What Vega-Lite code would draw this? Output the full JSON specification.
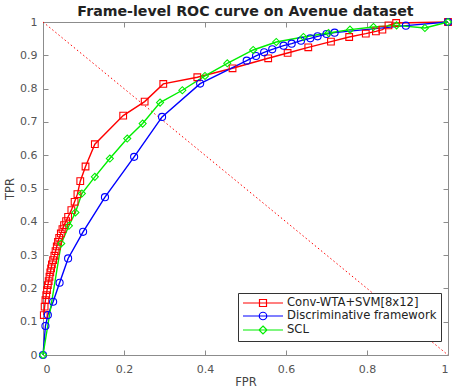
{
  "$schema": "https://vega.github.io/schema/vega-lite/v6.json",
  "width": 405,
  "height": 333,
  "autosize": "none",
  "padding": {"left": 43, "top": 22, "right": 11, "bottom": 33},
  "background": "white",
  "title": {"text": "Frame-level ROC curve on Avenue dataset", "font": "DejaVu Sans", "fontSize": 14.2, "fontWeight": "bold", "color": "#222222", "offset": -3},
  "config": {
    "view": {"stroke": null},
    "axis": {"grid": false, "domainColor": "#8c8c8c", "tickColor": "#8c8c8c", "tickSize": -5, "labelFont": "DejaVu Sans", "labelFontSize": 11, "labelColor": "#555555", "titleFont": "DejaVu Sans", "titleFontSize": 11.5, "titleFontWeight": "normal", "titleColor": "#444444", "format": "~g", "domainWidth": 1}
  },
  "datasets": {
    "roc": [
      {"series": "Conv-WTA+SVM[8x12]", "fpr": 0.002, "tpr": 0.12},
      {"series": "Conv-WTA+SVM[8x12]", "fpr": 0.004, "tpr": 0.145},
      {"series": "Conv-WTA+SVM[8x12]", "fpr": 0.006, "tpr": 0.165},
      {"series": "Conv-WTA+SVM[8x12]", "fpr": 0.008, "tpr": 0.18},
      {"series": "Conv-WTA+SVM[8x12]", "fpr": 0.010, "tpr": 0.195},
      {"series": "Conv-WTA+SVM[8x12]", "fpr": 0.012, "tpr": 0.21},
      {"series": "Conv-WTA+SVM[8x12]", "fpr": 0.014, "tpr": 0.222},
      {"series": "Conv-WTA+SVM[8x12]", "fpr": 0.016, "tpr": 0.235},
      {"series": "Conv-WTA+SVM[8x12]", "fpr": 0.018, "tpr": 0.248},
      {"series": "Conv-WTA+SVM[8x12]", "fpr": 0.020, "tpr": 0.26},
      {"series": "Conv-WTA+SVM[8x12]", "fpr": 0.022, "tpr": 0.272},
      {"series": "Conv-WTA+SVM[8x12]", "fpr": 0.025, "tpr": 0.285},
      {"series": "Conv-WTA+SVM[8x12]", "fpr": 0.028, "tpr": 0.298},
      {"series": "Conv-WTA+SVM[8x12]", "fpr": 0.031, "tpr": 0.312},
      {"series": "Conv-WTA+SVM[8x12]", "fpr": 0.034, "tpr": 0.326},
      {"series": "Conv-WTA+SVM[8x12]", "fpr": 0.037, "tpr": 0.34},
      {"series": "Conv-WTA+SVM[8x12]", "fpr": 0.040, "tpr": 0.352},
      {"series": "Conv-WTA+SVM[8x12]", "fpr": 0.044, "tpr": 0.365},
      {"series": "Conv-WTA+SVM[8x12]", "fpr": 0.048, "tpr": 0.378},
      {"series": "Conv-WTA+SVM[8x12]", "fpr": 0.052, "tpr": 0.39},
      {"series": "Conv-WTA+SVM[8x12]", "fpr": 0.057, "tpr": 0.402},
      {"series": "Conv-WTA+SVM[8x12]", "fpr": 0.062, "tpr": 0.415},
      {"series": "Conv-WTA+SVM[8x12]", "fpr": 0.070, "tpr": 0.435},
      {"series": "Conv-WTA+SVM[8x12]", "fpr": 0.078, "tpr": 0.46},
      {"series": "Conv-WTA+SVM[8x12]", "fpr": 0.085, "tpr": 0.483},
      {"series": "Conv-WTA+SVM[8x12]", "fpr": 0.092, "tpr": 0.522},
      {"series": "Conv-WTA+SVM[8x12]", "fpr": 0.105, "tpr": 0.566},
      {"series": "Conv-WTA+SVM[8x12]", "fpr": 0.128, "tpr": 0.633},
      {"series": "Conv-WTA+SVM[8x12]", "fpr": 0.198, "tpr": 0.719},
      {"series": "Conv-WTA+SVM[8x12]", "fpr": 0.251, "tpr": 0.761},
      {"series": "Conv-WTA+SVM[8x12]", "fpr": 0.297, "tpr": 0.814},
      {"series": "Conv-WTA+SVM[8x12]", "fpr": 0.381, "tpr": 0.834},
      {"series": "Conv-WTA+SVM[8x12]", "fpr": 0.468, "tpr": 0.861},
      {"series": "Conv-WTA+SVM[8x12]", "fpr": 0.556, "tpr": 0.891},
      {"series": "Conv-WTA+SVM[8x12]", "fpr": 0.604, "tpr": 0.907},
      {"series": "Conv-WTA+SVM[8x12]", "fpr": 0.655, "tpr": 0.924},
      {"series": "Conv-WTA+SVM[8x12]", "fpr": 0.711, "tpr": 0.941},
      {"series": "Conv-WTA+SVM[8x12]", "fpr": 0.756, "tpr": 0.955},
      {"series": "Conv-WTA+SVM[8x12]", "fpr": 0.797, "tpr": 0.965},
      {"series": "Conv-WTA+SVM[8x12]", "fpr": 0.822, "tpr": 0.972},
      {"series": "Conv-WTA+SVM[8x12]", "fpr": 0.838, "tpr": 0.977},
      {"series": "Conv-WTA+SVM[8x12]", "fpr": 0.853, "tpr": 0.99},
      {"series": "Conv-WTA+SVM[8x12]", "fpr": 0.872, "tpr": 0.997},
      {"series": "Conv-WTA+SVM[8x12]", "fpr": 1.0, "tpr": 1.0},
      {"series": "Discriminative framework", "fpr": 0.0, "tpr": 0.0},
      {"series": "Discriminative framework", "fpr": 0.006, "tpr": 0.087},
      {"series": "Discriminative framework", "fpr": 0.012, "tpr": 0.12},
      {"series": "Discriminative framework", "fpr": 0.025, "tpr": 0.16},
      {"series": "Discriminative framework", "fpr": 0.041, "tpr": 0.217},
      {"series": "Discriminative framework", "fpr": 0.062, "tpr": 0.29},
      {"series": "Discriminative framework", "fpr": 0.099, "tpr": 0.37},
      {"series": "Discriminative framework", "fpr": 0.153, "tpr": 0.474},
      {"series": "Discriminative framework", "fpr": 0.225, "tpr": 0.595},
      {"series": "Discriminative framework", "fpr": 0.294, "tpr": 0.715},
      {"series": "Discriminative framework", "fpr": 0.388, "tpr": 0.815},
      {"series": "Discriminative framework", "fpr": 0.503, "tpr": 0.884},
      {"series": "Discriminative framework", "fpr": 0.526, "tpr": 0.898},
      {"series": "Discriminative framework", "fpr": 0.546, "tpr": 0.909},
      {"series": "Discriminative framework", "fpr": 0.566, "tpr": 0.918},
      {"series": "Discriminative framework", "fpr": 0.594, "tpr": 0.929},
      {"series": "Discriminative framework", "fpr": 0.614, "tpr": 0.935},
      {"series": "Discriminative framework", "fpr": 0.637, "tpr": 0.944},
      {"series": "Discriminative framework", "fpr": 0.66, "tpr": 0.951},
      {"series": "Discriminative framework", "fpr": 0.678, "tpr": 0.957},
      {"series": "Discriminative framework", "fpr": 0.7, "tpr": 0.964},
      {"series": "Discriminative framework", "fpr": 0.72, "tpr": 0.968},
      {"series": "Discriminative framework", "fpr": 0.896, "tpr": 0.989},
      {"series": "Discriminative framework", "fpr": 1.0, "tpr": 1.0},
      {"series": "SCL", "fpr": 0.0, "tpr": 0.0},
      {"series": "SCL", "fpr": 0.045, "tpr": 0.335},
      {"series": "SCL", "fpr": 0.064, "tpr": 0.388},
      {"series": "SCL", "fpr": 0.08, "tpr": 0.428},
      {"series": "SCL", "fpr": 0.096, "tpr": 0.485},
      {"series": "SCL", "fpr": 0.128, "tpr": 0.535},
      {"series": "SCL", "fpr": 0.165, "tpr": 0.59},
      {"series": "SCL", "fpr": 0.208, "tpr": 0.65},
      {"series": "SCL", "fpr": 0.246, "tpr": 0.695},
      {"series": "SCL", "fpr": 0.289, "tpr": 0.758},
      {"series": "SCL", "fpr": 0.344, "tpr": 0.795},
      {"series": "SCL", "fpr": 0.4, "tpr": 0.838},
      {"series": "SCL", "fpr": 0.455, "tpr": 0.876},
      {"series": "SCL", "fpr": 0.519, "tpr": 0.916},
      {"series": "SCL", "fpr": 0.576, "tpr": 0.94},
      {"series": "SCL", "fpr": 0.643, "tpr": 0.955},
      {"series": "SCL", "fpr": 0.705, "tpr": 0.967},
      {"series": "SCL", "fpr": 0.758, "tpr": 0.977},
      {"series": "SCL", "fpr": 0.816, "tpr": 0.985},
      {"series": "SCL", "fpr": 0.873, "tpr": 0.99},
      {"series": "SCL", "fpr": 0.943, "tpr": 0.982},
      {"series": "SCL", "fpr": 1.0, "tpr": 1.0}
    ],
    "diag": [
      {"fpr": 0.0, "tpr": 1.0},
      {"fpr": 1.0, "tpr": 0.0}
    ]
  },
  "layer": [
    {
      "data": {"name": "diag"},
      "mark": {"type": "line", "color": "#ff0000", "strokeWidth": 1, "strokeDash": [1.5, 2.5]},
      "encoding": {
        "x": {"field": "fpr", "type": "quantitative", "scale": {"domain": [0, 1], "nice": false}, "axis": {"orient": "top", "labels": false, "title": null, "values": [0, 0.2, 0.4, 0.6, 0.8, 1]}},
        "y": {"field": "tpr", "type": "quantitative", "scale": {"domain": [0, 1], "nice": false}, "axis": {"orient": "right", "labels": false, "title": null, "values": [0, 0.1, 0.2, 0.3, 0.4, 0.5, 0.6, 0.7, 0.8, 0.9, 1]}}
      }
    },
    {
      "data": {"name": "roc"},
      "mark": {"type": "line", "strokeWidth": 1.4},
      "encoding": {
        "x": {"field": "fpr", "type": "quantitative", "axis": null},
        "y": {"field": "tpr", "type": "quantitative", "axis": null},
        "color": {
          "field": "series", "type": "nominal",
          "scale": {"domain": ["Conv-WTA+SVM[8x12]", "Discriminative framework", "SCL"], "range": ["#ff0000", "#0000ff", "#00ee00"]},
          "legend": {
            "title": null, "orient": "none", "legendX": 195, "legendY": 271,
            "padding": 4, "strokeColor": "#333333", "fillColor": "white",
            "labelFont": "DejaVu Sans", "labelFontSize": 11.6, "labelColor": "#222222",
            "symbolSize": 100, "labelOffset": 33, "rowPadding": 0,
            "encode": {
              "symbols": {
                "update": {
                  "shape": {"signal": "datum.value === 'SCL' ? 'M-1,0H7M3,-0.8L3.8,0L3,0.8L2.2,0Z' : (datum.value === 'Discriminative framework' ? 'M-1,0H7M3.75,0A0.75,0.75,0,1,1,2.25,0A0.75,0.75,0,1,1,3.75,0' : 'M-1,0H7M2.3,-0.7H3.7V0.7H2.3Z')"},
                  "fill": {"value": "transparent"},
                  "strokeWidth": {"value": 1.2}
                }
              }
            }
          }
        }
      }
    },
    {
      "data": {"name": "roc"},
      "transform": [{"filter": "datum.series === 'Conv-WTA+SVM[8x12]'"}],
      "mark": {"type": "point", "shape": "square", "filled": false, "size": 45, "strokeWidth": 1.1, "opacity": 1},
      "encoding": {
        "x": {"field": "fpr", "type": "quantitative", "axis": {"orient": "bottom", "title": "FPR", "values": [0, 0.2, 0.4, 0.6, 0.8, 1], "labelPadding": 13, "titlePadding": 2}},
        "y": {"field": "tpr", "type": "quantitative", "axis": {"orient": "left", "title": "TPR", "values": [0, 0.1, 0.2, 0.3, 0.4, 0.5, 0.6, 0.7, 0.8, 0.9, 1], "labelPadding": 11, "titlePadding": 4}},
        "color": {"field": "series", "type": "nominal", "legend": null}
      }
    },
    {
      "data": {"name": "roc"},
      "transform": [{"filter": "datum.series === 'Discriminative framework'"}],
      "mark": {"type": "point", "shape": "circle", "filled": false, "size": 50, "strokeWidth": 1.1, "opacity": 1},
      "encoding": {
        "x": {"field": "fpr", "type": "quantitative", "axis": null},
        "y": {"field": "tpr", "type": "quantitative", "axis": null},
        "color": {"field": "series", "type": "nominal", "legend": null}
      }
    },
    {
      "data": {"name": "roc"},
      "transform": [{"filter": "datum.series === 'SCL'"}],
      "mark": {"type": "point", "shape": "diamond", "filled": false, "size": 50, "strokeWidth": 1.1, "opacity": 1},
      "encoding": {
        "x": {"field": "fpr", "type": "quantitative", "axis": null},
        "y": {"field": "tpr", "type": "quantitative", "axis": null},
        "color": {"field": "series", "type": "nominal", "legend": null}
      }
    }
  ],
  "resolve": {"axis": {"x": "independent", "y": "independent"}}
}
